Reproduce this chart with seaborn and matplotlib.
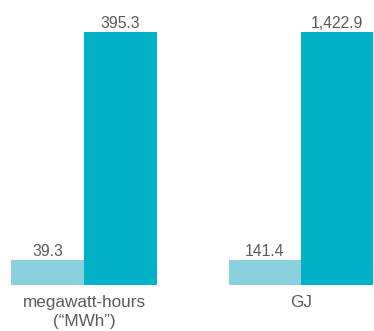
import matplotlib
matplotlib.use("Agg")
import matplotlib.pyplot as plt
import seaborn as sns
import pandas as pd

# Energy figures, one panel per unit
units = ["megawatt-hours\n(\u201cMWh\u201d)", "GJ"]
series = ["Prior", "Current"]
mwh_values = [39.3, 395.3]
gj_values = [141.4, 1422.9]
colors = ["#88D1DD", "#00B1C7"]

sns.set_theme(style="white")
plt.rcParams["font.family"] = ["Liberation Sans", "DejaVu Sans"]
text_color = "#5a5a5a"

fig = plt.figure(figsize=(3.74, 3.31), dpi=100)
panels = [
    (units[0], mwh_values, [11 / 374, 46 / 331, 146 / 374, 253 / 331]),
    (units[1], gj_values, [229 / 374, 46 / 331, 144 / 374, 253 / 331]),
]

for unit, values, rect in panels:
    ax = fig.add_axes(rect)
    df = pd.DataFrame({"unit": [unit] * len(values), "series": series, "value": values})
    sns.barplot(data=df, x="unit", y="value", hue="series", palette=colors,
                width=0.8, legend=False, ax=ax, saturation=1, linewidth=0,
                edgecolor="none")
    ax.set_xlim(-0.4, 0.4)
    ax.set_ylim(0, max(values))
    for container in ax.containers:
        labels = [f"{v:,.1f}" for v in container.datavalues]
        ax.bar_label(container, labels=labels, padding=0.5, fontsize=11.3,
                     color=text_color, clip_on=False)
    ax.set_xlabel("")
    ax.set_ylabel("")
    ax.set_yticks([])
    ax.tick_params(axis="x", length=0, pad=7, labelsize=12.3, labelcolor=text_color)
    for lbl in ax.get_xticklabels():
        lbl.set_linespacing(1.35)
    for spine in ax.spines.values():
        spine.set_visible(False)

fig.savefig("out.png", dpi=100)
